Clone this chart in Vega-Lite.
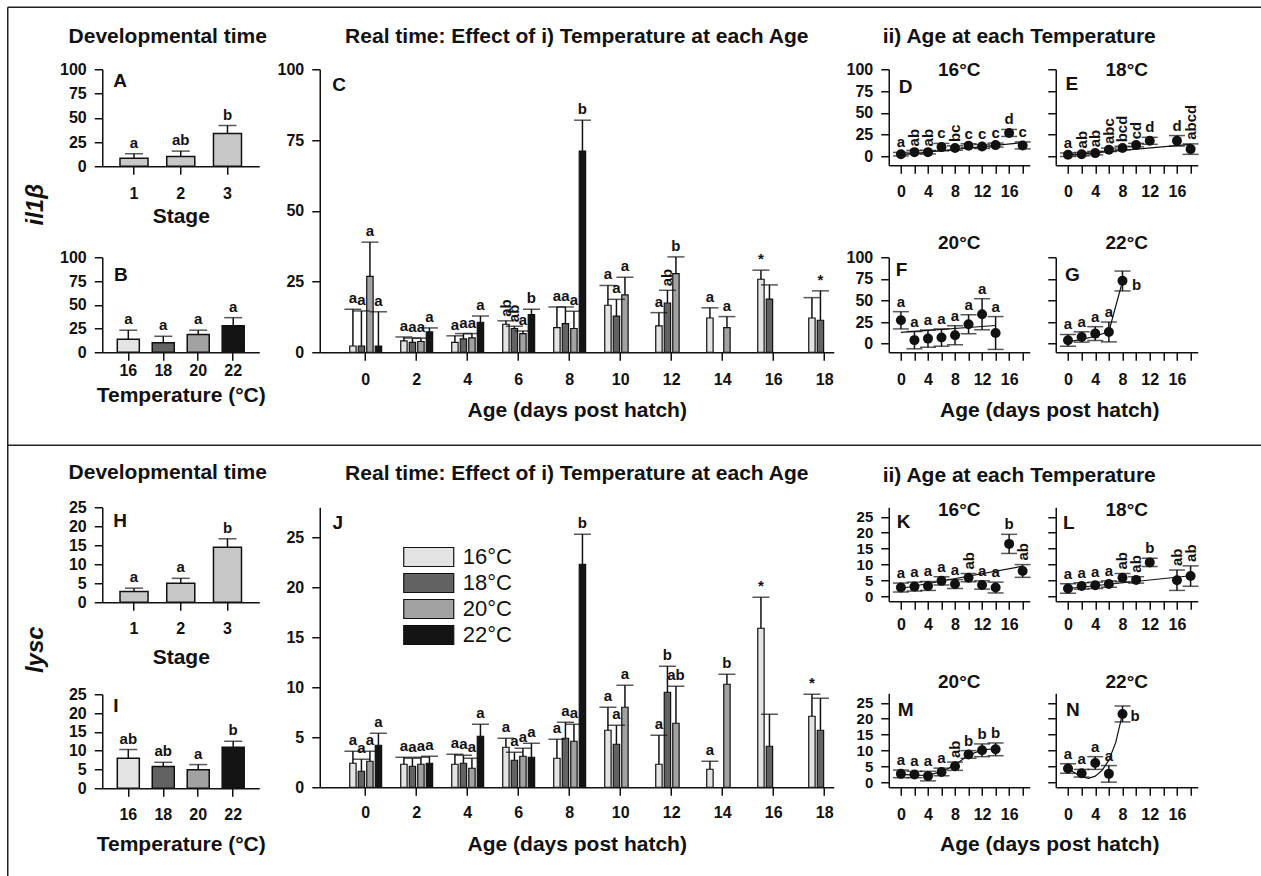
{
"$schema":"https://vega.github.io/schema/vega-lite/v6.json",
"padding":{"left":6.25,"top":6.25,"right":0,"bottom":0},
"background":"white",
"config":{
 "font":"Liberation Sans",
 "view":{"stroke":null},
 "axis":{"domainColor":"#111","domainWidth":1.5,"tickColor":"#111","tickWidth":1.5,"tickSize":8,"grid":false,"labelFont":"Liberation Sans","labelFontSize":16,"labelFontWeight":"bold","labelColor":"#111","labelPadding":8,"labelOverlap":false,"labelFlush":false,"titleFont":"Liberation Sans","titleFontSize":21,"titleFontWeight":"bold","titleColor":"#111"},
 "title":{"font":"Liberation Sans","fontSize":21,"fontWeight":"bold","color":"#111"},
 "text":{"font":"Liberation Sans","fontWeight":"bold","fontSize":15,"color":"#111"},
 "rule":{"color":"#111","strokeWidth":1.5},
 "tick":{"color":"#111","thickness":1.5},
 "point":{"filled":true,"color":"#111","opacity":1,"size":100},
 "line":{"color":"#111","strokeWidth":1.2},
 "bar":{"stroke":"#111","strokeWidth":1.2}
},
"datasets":{
 "stA":[{"stage":1,"mean":8.3,"hi":12.9,"lab":"a"},{"stage":2,"mean":10.1,"hi":15.6,"lab":"ab"},{"stage":3,"mean":33.8,"hi":42,"lab":"b"}],
 "tpB":[{"temp":16,"mean":13.6,"hi":23.2,"lab":"a"},{"temp":18,"mean":10,"hi":16.8,"lab":"a"},{"temp":20,"mean":18.6,"hi":23.2,"lab":"a"},{"temp":22,"mean":27.9,"hi":36.4,"lab":"a"}],
 "stH":[{"stage":1,"mean":2.8,"hi":3.7,"lab":"a"},{"stage":2,"mean":5.0,"hi":6.3,"lab":"a"},{"stage":3,"mean":14.5,"hi":16.7,"lab":"b"}],
 "tpI":[{"temp":16,"mean":8.0,"hi":10.3,"lab":"ab"},{"temp":18,"mean":5.8,"hi":6.9,"lab":"ab"},{"temp":20,"mean":4.9,"hi":6.3,"lab":"a"},{"temp":22,"mean":10.9,"hi":12.5,"lab":"b"}],
 "realIl":[
  {"age":0,"temp":16,"mean":2.2,"hi":15.2,"lab":"a"},{"age":0,"temp":18,"mean":2.2,"hi":14.6,"lab":"a"},{"age":0,"temp":20,"mean":26.8,"hi":38.9,"lab":"a"},{"age":0,"temp":22,"mean":2.2,"hi":14.3,"lab":"a"},
  {"age":2,"temp":16,"mean":4.0,"hi":5.4,"lab":"a"},{"age":2,"temp":18,"mean":3.5,"hi":5.0,"lab":"a"},{"age":2,"temp":20,"mean":3.8,"hi":5.0,"lab":"a"},{"age":2,"temp":22,"mean":7.2,"hi":8.6,"lab":"a"},
  {"age":4,"temp":16,"mean":3.5,"hi":5.8,"lab":"a"},{"age":4,"temp":18,"mean":4.7,"hi":6.6,"lab":"a"},{"age":4,"temp":20,"mean":5.1,"hi":6.6,"lab":"a"},{"age":4,"temp":22,"mean":10.6,"hi":12.8,"lab":"a"},
  {"age":6,"temp":16,"mean":9.9,"hi":11.1,"vlab":"ab"},{"age":6,"temp":18,"mean":8.4,"hi":9.2,"vlab":"ab"},{"age":6,"temp":20,"mean":6.6,"hi":7.5,"lab":"a"},{"age":6,"temp":22,"mean":13.3,"hi":15.2,"lab":"b"},
  {"age":8,"temp":16,"mean":8.7,"hi":16.0,"lab":"a"},{"age":8,"temp":18,"mean":10.1,"hi":16.0,"lab":"a"},{"age":8,"temp":20,"mean":8.4,"hi":14.5,"lab":"a"},{"age":8,"temp":22,"mean":71.1,"hi":82.0,"lab":"b"},
  {"age":10,"temp":16,"mean":16.6,"hi":23.6,"lab":"a"},{"age":10,"temp":18,"mean":12.8,"hi":18.7,"lab":"a"},{"age":10,"temp":20,"mean":20.3,"hi":26.5,"lab":"a"},
  {"age":12,"temp":16,"mean":9.3,"hi":14.0,"lab":"a"},{"age":12,"temp":18,"mean":17.4,"hi":21.9,"vlab":"ab"},{"age":12,"temp":20,"mean":27.8,"hi":33.7,"lab":"b"},
  {"age":14,"temp":16,"mean":12.1,"hi":15.7,"lab":"a"},{"age":14,"temp":20,"mean":8.7,"hi":12.6,"lab":"a"},
  {"age":16,"temp":16,"mean":25.8,"hi":29.0,"lab":"*"},{"age":16,"temp":18,"mean":18.8,"hi":23.8},
  {"age":18,"temp":16,"mean":12.1,"hi":19.3},{"age":18,"temp":18,"mean":11.3,"hi":21.7,"lab":"*"}
 ],
 "realLy":[
  {"age":0,"temp":16,"mean":2.4,"hi":3.6,"lab":"a"},{"age":0,"temp":18,"mean":1.6,"hi":2.8,"lab":"a"},{"age":0,"temp":20,"mean":2.6,"hi":3.6,"lab":"a"},{"age":0,"temp":22,"mean":4.2,"hi":5.4,"lab":"a"},
  {"age":2,"temp":16,"mean":2.3,"hi":3.0,"lab":"a"},{"age":2,"temp":18,"mean":2.1,"hi":2.9,"lab":"a"},{"age":2,"temp":20,"mean":2.3,"hi":3.0,"lab":"a"},{"age":2,"temp":22,"mean":2.4,"hi":3.1,"lab":"a"},
  {"age":4,"temp":16,"mean":2.3,"hi":3.3,"lab":"a"},{"age":4,"temp":18,"mean":2.4,"hi":3.2,"lab":"a"},{"age":4,"temp":20,"mean":1.9,"hi":2.9,"lab":"a"},{"age":4,"temp":22,"mean":5.1,"hi":6.3,"lab":"a"},
  {"age":6,"temp":16,"mean":4.0,"hi":4.9,"lab":"a"},{"age":6,"temp":18,"mean":2.7,"hi":3.5,"lab":"a"},{"age":6,"temp":20,"mean":3.1,"hi":3.9,"lab":"a"},{"age":6,"temp":22,"mean":3.0,"hi":4.4,"lab":"a"},
  {"age":8,"temp":16,"mean":2.9,"hi":4.8,"lab":"a"},{"age":8,"temp":18,"mean":4.9,"hi":6.5,"lab":"a"},{"age":8,"temp":20,"mean":4.6,"hi":6.3,"lab":"a"},{"age":8,"temp":22,"mean":22.3,"hi":25.3,"lab":"b"},
  {"age":10,"temp":16,"mean":5.7,"hi":8.0,"lab":"a"},{"age":10,"temp":18,"mean":4.3,"hi":6.2,"lab":"a"},{"age":10,"temp":20,"mean":8.0,"hi":10.2,"lab":"a"},
  {"age":12,"temp":16,"mean":2.3,"hi":5.2,"lab":"a"},{"age":12,"temp":18,"mean":9.5,"hi":12.1,"lab":"b"},{"age":12,"temp":20,"mean":6.4,"hi":10.1,"lab":"ab"},
  {"age":14,"temp":16,"mean":1.8,"hi":2.6,"lab":"a"},{"age":14,"temp":20,"mean":10.3,"hi":11.3,"lab":"b"},
  {"age":16,"temp":16,"mean":15.9,"hi":19.0,"lab":"*"},{"age":16,"temp":18,"mean":4.1,"hi":7.3},
  {"age":18,"temp":16,"mean":7.1,"hi":9.3,"lab":"*"},{"age":18,"temp":18,"mean":5.7,"hi":8.9}
 ],
 "ageIl":[
  {"temp":16,"age":0,"mean":2.7,"lo":0.7,"hi":4.7,"lab":"a"},{"temp":16,"age":2,"mean":5,"lo":3,"hi":7,"vlab":"ab"},{"temp":16,"age":4,"mean":5,"lo":3,"hi":7,"vlab":"ab"},{"temp":16,"age":6,"mean":10.8,"lo":6.5,"hi":15,"lab":"c"},{"temp":16,"age":8,"mean":9.7,"lo":7.2,"hi":12.2,"vlab":"bc"},{"temp":16,"age":10,"mean":12.3,"lo":10,"hi":14.6,"lab":"c"},{"temp":16,"age":12,"mean":11.5,"lo":9.2,"hi":13.8,"lab":"c"},{"temp":16,"age":14,"mean":13.1,"lo":10.8,"hi":15.4,"lab":"c"},{"temp":16,"age":16,"mean":27,"lo":23,"hi":31,"lab":"d"},{"temp":16,"age":18,"mean":12.7,"lo":8.7,"hi":16.7,"lab":"c"},
  {"temp":18,"age":0,"mean":2,"lo":0,"hi":4,"lab":"a"},{"temp":18,"age":2,"mean":2.7,"lo":0.7,"hi":4.7,"vlab":"ab"},{"temp":18,"age":4,"mean":3.9,"lo":1.9,"hi":5.9,"vlab":"ab"},{"temp":18,"age":6,"mean":7.7,"lo":5.7,"hi":9.7,"vlab":"abc"},{"temp":18,"age":8,"mean":9.7,"lo":7.7,"hi":11.7,"vlab":"bcd"},{"temp":18,"age":10,"mean":13.1,"lo":11.1,"hi":15.1,"vlab":"cd"},{"temp":18,"age":12,"mean":18,"lo":14,"hi":22,"lab":"d"},{"temp":18,"age":16,"mean":18,"lo":12,"hi":24,"lab":"d"},{"temp":18,"age":18,"mean":8.5,"lo":2.5,"hi":14.5,"vlab":"abcd"},
  {"temp":20,"age":0,"mean":27,"lo":17,"hi":37,"lab":"a"},{"temp":20,"age":2,"mean":4,"lo":-6,"hi":14,"lab":"a"},{"temp":20,"age":4,"mean":5.8,"lo":-4.2,"hi":15.8,"lab":"a"},{"temp":20,"age":6,"mean":7,"lo":-3,"hi":17,"lab":"a"},{"temp":20,"age":8,"mean":9.7,"lo":-1.3,"hi":20.7,"lab":"a"},{"temp":20,"age":10,"mean":22.4,"lo":11.4,"hi":33.4,"lab":"a"},{"temp":20,"age":12,"mean":34,"lo":16,"hi":52,"lab":"a"},{"temp":20,"age":14,"mean":12.3,"lo":-6.7,"hi":31.3,"lab":"a"},
  {"temp":22,"age":0,"mean":3.8,"lo":-3,"hi":10.6,"lab":"a"},{"temp":22,"age":2,"mean":7.7,"lo":1.7,"hi":13.7,"lab":"a"},{"temp":22,"age":4,"mean":11.6,"lo":3.6,"hi":19.6,"lab":"a"},{"temp":22,"age":6,"mean":13.5,"lo":2,"hi":25,"lab":"a"},{"temp":22,"age":8,"mean":72.8,"lo":61,"hi":84,"rlab":"b"}
 ],
 "fitIl":[
  {"temp":16,"age":0,"fit":2},{"temp":16,"age":18,"fit":16},
  {"temp":18,"age":0,"fit":1.5},{"temp":18,"age":18,"fit":14},
  {"temp":20,"age":0,"fit":13},{"temp":20,"age":14,"fit":21},
  {"temp":22,"age":0,"fit":2},{"temp":22,"age":2,"fit":5},{"temp":22,"age":4,"fit":8.5},{"temp":22,"age":6,"fit":14},{"temp":22,"age":8,"fit":72}
 ],
 "ageLy":[
  {"temp":16,"age":0,"mean":2.8,"lo":1.4,"hi":4.2,"lab":"a"},{"temp":16,"age":2,"mean":3.1,"lo":1.7,"hi":4.5,"lab":"a"},{"temp":16,"age":4,"mean":3.3,"lo":1.9,"hi":4.7,"lab":"a"},{"temp":16,"age":6,"mean":4.9,"lo":3.6,"hi":6.2,"lab":"a"},{"temp":16,"age":8,"mean":3.9,"lo":2.5,"hi":5.3,"lab":"a"},{"temp":16,"age":10,"mean":5.9,"lo":4.6,"hi":7.2,"vlab":"ab"},{"temp":16,"age":12,"mean":3.6,"lo":2.3,"hi":4.9,"lab":"a"},{"temp":16,"age":14,"mean":2.8,"lo":1.1,"hi":4.5,"lab":"a"},{"temp":16,"age":16,"mean":16.5,"lo":13.5,"hi":19.5,"lab":"b"},{"temp":16,"age":18,"mean":8.0,"lo":6,"hi":10,"vlab":"ab"},
  {"temp":18,"age":0,"mean":2.5,"lo":1,"hi":4,"lab":"a"},{"temp":18,"age":2,"mean":3.3,"lo":2.3,"hi":4.3,"lab":"a"},{"temp":18,"age":4,"mean":3.5,"lo":2.5,"hi":4.5,"lab":"a"},{"temp":18,"age":6,"mean":3.9,"lo":2.9,"hi":4.9,"lab":"a"},{"temp":18,"age":8,"mean":5.9,"lo":4.6,"hi":7.2,"vlab":"ab"},{"temp":18,"age":10,"mean":5.2,"lo":4.2,"hi":6.2,"vlab":"ab"},{"temp":18,"age":12,"mean":10.7,"lo":9.4,"hi":12,"lab":"b"},{"temp":18,"age":16,"mean":5.1,"lo":1.9,"hi":8.3,"vlab":"ab"},{"temp":18,"age":18,"mean":6.4,"lo":3.2,"hi":9.6,"vlab":"ab"},
  {"temp":20,"age":0,"mean":2.7,"lo":1.5,"hi":3.9,"lab":"a"},{"temp":20,"age":2,"mean":2.5,"lo":1.5,"hi":3.5,"lab":"a"},{"temp":20,"age":4,"mean":2.0,"lo":0.5,"hi":3.5,"lab":"a"},{"temp":20,"age":6,"mean":3.3,"lo":2.1,"hi":4.5,"lab":"a"},{"temp":20,"age":8,"mean":5.1,"lo":3.8,"hi":6.4,"vlab":"ab"},{"temp":20,"age":10,"mean":8.8,"lo":7.6,"hi":10,"lab":"b"},{"temp":20,"age":12,"mean":10.1,"lo":8.1,"hi":12.1,"lab":"b"},{"temp":20,"age":14,"mean":10.4,"lo":8.4,"hi":12.4,"lab":"b"},
  {"temp":22,"age":0,"mean":4.4,"lo":2.9,"hi":5.9,"lab":"a"},{"temp":22,"age":2,"mean":2.9,"lo":1.7,"hi":4.1,"lab":"a"},{"temp":22,"age":4,"mean":6.1,"lo":4.1,"hi":8.1,"lab":"a"},{"temp":22,"age":6,"mean":2.7,"lo":0.1,"hi":5.3,"lab":"a"},{"temp":22,"age":8,"mean":21.5,"lo":19,"hi":24,"rlab":"b"}
 ],
 "fitLy":[
  {"temp":16,"age":0,"fit":2.5},{"temp":16,"age":18,"fit":9.5},
  {"temp":18,"age":0,"fit":2.5},{"temp":18,"age":18,"fit":6.5},
  {"temp":20,"age":0,"fit":2.6},{"temp":20,"age":2,"fit":2.2},{"temp":20,"age":4,"fit":2.3},{"temp":20,"age":6,"fit":3.3},{"temp":20,"age":8,"fit":5.5},{"temp":20,"age":10,"fit":8.6},{"temp":20,"age":12,"fit":10.2},{"temp":20,"age":14,"fit":10.6},
  {"temp":22,"age":0,"fit":4.5},{"temp":22,"age":1,"fit":3},{"temp":22,"age":2,"fit":1.8},{"temp":22,"age":3,"fit":1.3},{"temp":22,"age":4,"fit":2},{"temp":22,"age":5,"fit":3.8},{"temp":22,"age":6,"fit":7},{"temp":22,"age":7,"fit":12.5},{"temp":22,"age":8,"fit":21.5}
 ]
},
"resolve":{"scale":{"fill":"independent"},"legend":{"fill":"independent"}},
"spacing":61,
"bounds":"flush",
"vconcat":[
 {"width":1160,"height":1,"data":{"values":[{}]},
  "layer":[
   {"mark":{"type":"rule","color":"#222","strokeWidth":1.5},"encoding":{"x":{"datum":-94.5,"type":"quantitative","scale":{"domain":[0,1160],"nice":false,"zero":false},"axis":null},"x2":{"datum":1160},"y":{"datum":0,"type":"quantitative","scale":{"domain":[0,1],"reverse":true,"nice":false,"zero":false},"axis":null}}},
   {"mark":{"type":"rule","color":"#222","strokeWidth":1.5},"encoding":{"x":{"datum":-94.5,"type":"quantitative"},"y":{"datum":0,"type":"quantitative"},"y2":{"datum":880}}},
   {"mark":{"type":"rule","color":"#222","strokeWidth":1.5},"encoding":{"x":{"datum":-94.5,"type":"quantitative"},"x2":{"datum":1160},"y":{"datum":438,"type":"quantitative"}}}
  ]},
 {"vconcat":[
   {"hconcat":[
     {"title":{"text":"Developmental time","frame":"group","anchor":"middle","baseline":"bottom","offset":-6.4,"dx":65.5},
      "vconcat":[
       {"width":157,"height":97,"data":{"name":"stA"},
        "layer":[
         {"mark":{"type":"bar","fill":"#c8c8c8","strokeWidth":1.5},"encoding":{
           "x":{"field":"stage","type":"ordinal","scale":{"domain":[1,2,3],"paddingInner":0.4,"paddingOuter":0.38},"axis":{"title":"Stage","labelAngle":0,"labelPadding":11,"titlePadding":4}},
           "y":{"field":"mean","type":"quantitative","stack":null,"scale":{"domain":[0,100],"nice":false},"axis":{"values":[0,25,50,75,100],"tickCount":20,"title":"il1β","titleFontStyle":"italic","titleFontSize":24,"titleX":-66.5,"titleY":135,"titleAngle":270,"titleAlign":"center","titleBaseline":"middle"}}}},
         {"mark":"rule","encoding":{"x":{"field":"stage","type":"ordinal"},"y":{"field":"mean","type":"quantitative"},"y2":{"field":"hi"}}},
         {"mark":{"type":"tick","orient":"horizontal","size":18},"encoding":{"x":{"field":"stage","type":"ordinal"},"y":{"field":"hi","type":"quantitative"}}},
         {"mark":{"type":"text","baseline":"alphabetic","yOffset":-6},"encoding":{"x":{"field":"stage","type":"ordinal"},"y":{"field":"hi","type":"quantitative"},"text":{"field":"lab"}}},
         {"data":{"values":[{"p":"A"}]},"mark":{"type":"text","fontSize":19,"baseline":"middle","dx":-14},"encoding":{"x":{"datum":1,"type":"ordinal"},"y":{"datum":88,"type":"quantitative"},"text":{"field":"p"}}}
        ]},
       {"width":157,"height":95,"data":{"name":"tpB"},
        "layer":[
         {"mark":{"type":"bar","strokeWidth":1.5},"encoding":{
           "x":{"field":"temp","type":"ordinal","scale":{"domain":[16,18,20,22],"paddingInner":0.37,"paddingOuter":0.43},"axis":{"title":"Temperature (°C)","labelAngle":0,"labelPadding":2,"titlePadding":6.5}},
           "y":{"field":"mean","type":"quantitative","stack":null,"scale":{"domain":[0,100],"nice":false},"axis":{"values":[0,25,50,75,100],"tickCount":20,"title":null}},
           "fill":{"field":"temp","type":"ordinal","scale":{"domain":[16,18,20,22],"range":["#e4e4e4","#626262","#a2a2a2","#141414"]},"legend":null}}},
         {"mark":"rule","encoding":{"x":{"field":"temp","type":"ordinal"},"y":{"field":"mean","type":"quantitative"},"y2":{"field":"hi"}}},
         {"mark":{"type":"tick","orient":"horizontal","size":18},"encoding":{"x":{"field":"temp","type":"ordinal"},"y":{"field":"hi","type":"quantitative"}}},
         {"mark":{"type":"text","baseline":"alphabetic","yOffset":-6},"encoding":{"x":{"field":"temp","type":"ordinal"},"y":{"field":"hi","type":"quantitative"},"text":{"field":"lab"}}},
         {"data":{"values":[{"p":"B"}]},"mark":{"type":"text","fontSize":19,"baseline":"middle","dx":-7.5},"encoding":{"x":{"datum":16,"type":"ordinal"},"y":{"datum":81.6,"type":"quantitative"},"text":{"field":"p"}}}
        ]}
      ],"spacing":91,"bounds":"flush"},
     {"hconcat":[
       {"width":514,"height":283,"data":{"name":"realIl"},
        "title":{"text":"Real time: Effect of i) Temperature at each Age","frame":"group","anchor":"middle","baseline":"bottom","offset":-6.4},
        "layer":[
         {"mark":{"type":"bar"},"encoding":{
           "x":{"field":"age","type":"ordinal","scale":{"domain":[0,2,4,6,8,10,12,14,16,18],"paddingInner":0.647,"paddingOuter":0.3625,"align":1},"axis":{"title":"Age (days post hatch)","labelAngle":0,"labelPadding":11,"titlePadding":12.5}},
           "xOffset":{"field":"temp","type":"ordinal","scale":{"domain":[16,18,20,22],"range":[-7,24.9],"paddingInner":0.25,"paddingOuter":0}},
           "y":{"field":"mean","type":"quantitative","stack":null,"scale":{"domain":[0,100],"nice":false},"axis":{"values":[0,25,50,75,100],"tickCount":20,"title":null}},
           "fill":{"field":"temp","type":"ordinal","scale":{"domain":[16,18,20,22],"range":["#e4e4e4","#626262","#a2a2a2","#141414"]},"legend":null}}},
         {"mark":"rule","encoding":{"x":{"field":"age","type":"ordinal"},"xOffset":{"field":"temp","type":"ordinal"},"y":{"field":"mean","type":"quantitative"},"y2":{"field":"hi"}}},
         {"mark":{"type":"tick","orient":"horizontal","size":17},"encoding":{"x":{"field":"age","type":"ordinal"},"xOffset":{"field":"temp","type":"ordinal"},"y":{"field":"hi","type":"quantitative"}}},
         {"transform":[{"filter":"isValid(datum.lab)"}],"mark":{"type":"text","baseline":"alphabetic","yOffset":-6},"encoding":{"x":{"field":"age","type":"ordinal"},"xOffset":{"field":"temp","type":"ordinal"},"y":{"field":"hi","type":"quantitative"},"text":{"field":"lab"}}},
         {"transform":[{"filter":"isValid(datum.vlab)"}],"mark":{"type":"text","angle":270,"align":"left","baseline":"middle","yOffset":-4},"encoding":{"x":{"field":"age","type":"ordinal"},"xOffset":{"field":"temp","type":"ordinal"},"y":{"field":"hi","type":"quantitative"},"text":{"field":"vlab"}}},
         {"data":{"values":[{"p":"C"}]},"mark":{"type":"text","fontSize":19,"baseline":"middle","dx":-26.5},"encoding":{"x":{"datum":0,"type":"ordinal"},"y":{"datum":94.3,"type":"quantitative"},"text":{"field":"p"}}}
        ]},
       {"title":{"text":"ii) Age at each Temperature","frame":"group","anchor":"middle","baseline":"bottom","offset":-6.4,"dx":130.5},
        "vconcat":[
         {"hconcat":[
           {"width":141,"height":96,"layer":[
             {"data":{"name":"fitIl"},"transform":[{"filter":"datum.temp == 16"}],"mark":"line","encoding":{
               "x":{"field":"age","type":"quantitative","scale":{"domain":[-1.8,19.05],"nice":false,"zero":false},"axis":{"values":[0,2,4,6,8,10,12,14,16,18],"tickCount":20,"labelExpr":"datum.value % 4 === 0 ? datum.label : ''","title":null,"labelPadding":10}},
               "y":{"field":"fit","type":"quantitative","scale":{"domain":[-10,100],"nice":false,"zero":false},"axis":{"values":[0,25,50,75,100],"tickCount":20,"title":null}}}},
             {"data":{"name":"ageIl"},"transform":[{"filter":"datum.temp == 16"}],"layer":[
               {"mark":"rule","encoding":{"x":{"field":"age","type":"quantitative"},"y":{"field":"lo","type":"quantitative"},"y2":{"field":"hi"}}},
               {"mark":{"type":"tick","orient":"horizontal","size":16},"encoding":{"x":{"field":"age","type":"quantitative"},"y":{"field":"lo","type":"quantitative"}}},
               {"mark":{"type":"tick","orient":"horizontal","size":16},"encoding":{"x":{"field":"age","type":"quantitative"},"y":{"field":"hi","type":"quantitative"}}},
               {"mark":"point","encoding":{"x":{"field":"age","type":"quantitative"},"y":{"field":"mean","type":"quantitative"}}},
               {"transform":[{"filter":"isValid(datum.lab)"}],"mark":{"type":"text","baseline":"alphabetic","yOffset":-5},"encoding":{"x":{"field":"age","type":"quantitative"},"y":{"field":"hi","type":"quantitative"},"text":{"field":"lab"}}},
               {"transform":[{"filter":"isValid(datum.vlab)"}],"mark":{"type":"text","angle":270,"align":"left","baseline":"middle","yOffset":-4},"encoding":{"x":{"field":"age","type":"quantitative"},"y":{"field":"hi","type":"quantitative"},"text":{"field":"vlab"}}}
             ]},
             {"data":{"values":[{"t":"16°C","p":"D"}]},"layer":[
               {"mark":{"type":"text","fontSize":19,"baseline":"middle"},"encoding":{"x":{"datum":8.625,"type":"quantitative"},"y":{"datum":98.9,"type":"quantitative"},"text":{"field":"t"}}},
               {"mark":{"type":"text","fontSize":19,"baseline":"middle"},"encoding":{"x":{"datum":0.7,"type":"quantitative"},"y":{"datum":79.7,"type":"quantitative"},"text":{"field":"p"}}}
             ]}
           ]},
           {"width":142,"height":96,"layer":[
             {"data":{"name":"fitIl"},"transform":[{"filter":"datum.temp == 18"}],"mark":"line","encoding":{
               "x":{"field":"age","type":"quantitative","scale":{"domain":[-1.8,19.05],"nice":false,"zero":false},"axis":{"values":[0,2,4,6,8,10,12,14,16,18],"tickCount":20,"labelExpr":"datum.value % 4 === 0 ? datum.label : ''","title":null,"labelPadding":10}},
               "y":{"field":"fit","type":"quantitative","scale":{"domain":[-10,100],"nice":false,"zero":false},"axis":{"values":[0,25,50,75,100],"tickCount":20,"title":null,"labels":false}}}},
             {"data":{"name":"ageIl"},"transform":[{"filter":"datum.temp == 18"}],"layer":[
               {"mark":"rule","encoding":{"x":{"field":"age","type":"quantitative"},"y":{"field":"lo","type":"quantitative"},"y2":{"field":"hi"}}},
               {"mark":{"type":"tick","orient":"horizontal","size":16},"encoding":{"x":{"field":"age","type":"quantitative"},"y":{"field":"lo","type":"quantitative"}}},
               {"mark":{"type":"tick","orient":"horizontal","size":16},"encoding":{"x":{"field":"age","type":"quantitative"},"y":{"field":"hi","type":"quantitative"}}},
               {"mark":"point","encoding":{"x":{"field":"age","type":"quantitative"},"y":{"field":"mean","type":"quantitative"}}},
               {"transform":[{"filter":"isValid(datum.lab)"}],"mark":{"type":"text","baseline":"alphabetic","yOffset":-5},"encoding":{"x":{"field":"age","type":"quantitative"},"y":{"field":"hi","type":"quantitative"},"text":{"field":"lab"}}},
               {"transform":[{"filter":"isValid(datum.vlab)"}],"mark":{"type":"text","angle":270,"align":"left","baseline":"middle","yOffset":-4},"encoding":{"x":{"field":"age","type":"quantitative"},"y":{"field":"hi","type":"quantitative"},"text":{"field":"vlab"}}}
             ]},
             {"data":{"values":[{"t":"18°C","p":"E"}]},"layer":[
               {"mark":{"type":"text","fontSize":19,"baseline":"middle"},"encoding":{"x":{"datum":8.625,"type":"quantitative"},"y":{"datum":98.9,"type":"quantitative"},"text":{"field":"t"}}},
               {"mark":{"type":"text","fontSize":19,"baseline":"middle"},"encoding":{"x":{"datum":0.56,"type":"quantitative"},"y":{"datum":83.6,"type":"quantitative"},"text":{"field":"p"}}}
             ]}
           ]}
         ],"spacing":26,"bounds":"flush"},
         {"hconcat":[
           {"width":141,"height":95,"layer":[
             {"data":{"name":"fitIl"},"transform":[{"filter":"datum.temp == 20"}],"mark":"line","encoding":{
               "x":{"field":"age","type":"quantitative","scale":{"domain":[-1.8,19.05],"nice":false,"zero":false},"axis":{"values":[0,2,4,6,8,10,12,14,16,18],"tickCount":20,"labelExpr":"datum.value % 4 === 0 ? datum.label : ''","title":"Age (days post hatch)","titleX":160.5,"titleAlign":"center","titlePadding":12.5,"labelPadding":11}},
               "y":{"field":"fit","type":"quantitative","scale":{"domain":[-10,100],"nice":false,"zero":false},"axis":{"values":[0,25,50,75,100],"tickCount":20,"title":null}}}},
             {"data":{"name":"ageIl"},"transform":[{"filter":"datum.temp == 20"}],"layer":[
               {"mark":"rule","encoding":{"x":{"field":"age","type":"quantitative"},"y":{"field":"lo","type":"quantitative"},"y2":{"field":"hi"}}},
               {"mark":{"type":"tick","orient":"horizontal","size":16},"encoding":{"x":{"field":"age","type":"quantitative"},"y":{"field":"lo","type":"quantitative"}}},
               {"mark":{"type":"tick","orient":"horizontal","size":16},"encoding":{"x":{"field":"age","type":"quantitative"},"y":{"field":"hi","type":"quantitative"}}},
               {"mark":"point","encoding":{"x":{"field":"age","type":"quantitative"},"y":{"field":"mean","type":"quantitative"}}},
               {"transform":[{"filter":"isValid(datum.lab)"}],"mark":{"type":"text","baseline":"alphabetic","yOffset":-5},"encoding":{"x":{"field":"age","type":"quantitative"},"y":{"field":"hi","type":"quantitative"},"text":{"field":"lab"}}}
             ]},
             {"data":{"values":[{"t":"20°C","p":"F"}]},"layer":[
               {"mark":{"type":"text","fontSize":19,"baseline":"middle"},"encoding":{"x":{"datum":8.625,"type":"quantitative"},"y":{"datum":116.2,"type":"quantitative"},"text":{"field":"t"}}},
               {"mark":{"type":"text","fontSize":19,"baseline":"middle"},"encoding":{"x":{"datum":0.1,"type":"quantitative"},"y":{"datum":85,"type":"quantitative"},"text":{"field":"p"}}}
             ]}
           ]},
           {"width":142,"height":95,"layer":[
             {"data":{"name":"fitIl"},"transform":[{"filter":"datum.temp == 22"}],"mark":"line","encoding":{
               "x":{"field":"age","type":"quantitative","scale":{"domain":[-1.8,19.05],"nice":false,"zero":false},"axis":{"values":[0,2,4,6,8,10,12,14,16,18],"tickCount":20,"labelExpr":"datum.value % 4 === 0 ? datum.label : ''","title":null,"labelPadding":11}},
               "y":{"field":"fit","type":"quantitative","scale":{"domain":[-10,100],"nice":false,"zero":false},"axis":{"values":[0,25,50,75,100],"tickCount":20,"title":null,"labels":false}}}},
             {"data":{"name":"ageIl"},"transform":[{"filter":"datum.temp == 22"}],"layer":[
               {"mark":"rule","encoding":{"x":{"field":"age","type":"quantitative"},"y":{"field":"lo","type":"quantitative"},"y2":{"field":"hi"}}},
               {"mark":{"type":"tick","orient":"horizontal","size":16},"encoding":{"x":{"field":"age","type":"quantitative"},"y":{"field":"lo","type":"quantitative"}}},
               {"mark":{"type":"tick","orient":"horizontal","size":16},"encoding":{"x":{"field":"age","type":"quantitative"},"y":{"field":"hi","type":"quantitative"}}},
               {"mark":"point","encoding":{"x":{"field":"age","type":"quantitative"},"y":{"field":"mean","type":"quantitative"}}},
               {"transform":[{"filter":"isValid(datum.lab)"}],"mark":{"type":"text","baseline":"alphabetic","yOffset":-5},"encoding":{"x":{"field":"age","type":"quantitative"},"y":{"field":"hi","type":"quantitative"},"text":{"field":"lab"}}},
               {"transform":[{"filter":"isValid(datum.rlab)"}],"mark":{"type":"text","align":"left","baseline":"middle","xOffset":9.5,"yOffset":4},"encoding":{"x":{"field":"age","type":"quantitative"},"y":{"field":"mean","type":"quantitative"},"text":{"field":"rlab"}}}
             ]},
             {"data":{"values":[{"t":"22°C","p":"G"}]},"layer":[
               {"mark":{"type":"text","fontSize":19,"baseline":"middle"},"encoding":{"x":{"datum":8.625,"type":"quantitative"},"y":{"datum":116.2,"type":"quantitative"},"text":{"field":"t"}}},
               {"mark":{"type":"text","fontSize":19,"baseline":"middle"},"encoding":{"x":{"datum":0.64,"type":"quantitative"},"y":{"datum":79.2,"type":"quantitative"},"text":{"field":"p"}}}
             ]}
           ]}
         ],"spacing":26,"bounds":"flush"}
        ],"spacing":188,"bounds":"flush"}
     ],"spacing":55,"bounds":"flush"}
   ],"spacing":217.5,"bounds":"flush"},
   {"hconcat":[
     {"title":{"text":"Developmental time","frame":"group","anchor":"middle","baseline":"bottom","offset":-4.4,"dx":65.5},
      "vconcat":[
       {"width":157,"height":95,"data":{"name":"stH"},
        "layer":[
         {"mark":{"type":"bar","fill":"#c8c8c8","strokeWidth":1.5},"encoding":{
           "x":{"field":"stage","type":"ordinal","scale":{"domain":[1,2,3],"paddingInner":0.4,"paddingOuter":0.38},"axis":{"title":"Stage","labelAngle":0,"labelPadding":10,"titlePadding":10.5}},
           "y":{"field":"mean","type":"quantitative","stack":null,"scale":{"domain":[0,25],"nice":false},"axis":{"values":[0,5,10,15,20,25],"tickCount":20,"title":"lysc","titleFontStyle":"italic","titleFontSize":24,"titleX":-67,"titleY":142,"titleAngle":270,"titleAlign":"center","titleBaseline":"middle"}}}},
         {"mark":"rule","encoding":{"x":{"field":"stage","type":"ordinal"},"y":{"field":"mean","type":"quantitative"},"y2":{"field":"hi"}}},
         {"mark":{"type":"tick","orient":"horizontal","size":18},"encoding":{"x":{"field":"stage","type":"ordinal"},"y":{"field":"hi","type":"quantitative"}}},
         {"mark":{"type":"text","baseline":"alphabetic","yOffset":-6},"encoding":{"x":{"field":"stage","type":"ordinal"},"y":{"field":"hi","type":"quantitative"},"text":{"field":"lab"}}},
         {"data":{"values":[{"p":"H"}]},"mark":{"type":"text","fontSize":19,"baseline":"middle","dx":-14},"encoding":{"x":{"datum":1,"type":"ordinal"},"y":{"datum":21.4,"type":"quantitative"},"text":{"field":"p"}}}
        ]},
       {"width":157,"height":94,"data":{"name":"tpI"},
        "layer":[
         {"mark":{"type":"bar","strokeWidth":1.5},"encoding":{
           "x":{"field":"temp","type":"ordinal","scale":{"domain":[16,18,20,22],"paddingInner":0.37,"paddingOuter":0.43},"axis":{"title":"Temperature (°C)","labelAngle":0,"labelPadding":10,"titlePadding":11.5}},
           "y":{"field":"mean","type":"quantitative","stack":null,"scale":{"domain":[0,25],"nice":false},"axis":{"values":[0,5,10,15,20,25],"tickCount":20,"title":null}},
           "fill":{"field":"temp","type":"ordinal","scale":{"domain":[16,18,20,22],"range":["#e4e4e4","#626262","#a2a2a2","#141414"]},"legend":null}}},
         {"mark":"rule","encoding":{"x":{"field":"temp","type":"ordinal"},"y":{"field":"mean","type":"quantitative"},"y2":{"field":"hi"}}},
         {"mark":{"type":"tick","orient":"horizontal","size":18},"encoding":{"x":{"field":"temp","type":"ordinal"},"y":{"field":"hi","type":"quantitative"}}},
         {"mark":{"type":"text","baseline":"alphabetic","yOffset":-6},"encoding":{"x":{"field":"temp","type":"ordinal"},"y":{"field":"hi","type":"quantitative"},"text":{"field":"lab"}}},
         {"data":{"values":[{"p":"I"}]},"mark":{"type":"text","fontSize":19,"baseline":"middle","dx":-12.5},"encoding":{"x":{"datum":16,"type":"ordinal"},"y":{"datum":21.8,"type":"quantitative"},"text":{"field":"p"}}}
        ]}
      ],"spacing":92,"bounds":"flush"},
     {"hconcat":[
       {"width":514,"height":280,"data":{"name":"realLy"},
        "title":{"text":"Real time: Effect of i) Temperature at each Age","frame":"group","anchor":"middle","baseline":"bottom","offset":2},
        "layer":[
         {"mark":{"type":"bar"},"encoding":{
           "x":{"field":"age","type":"ordinal","scale":{"domain":[0,2,4,6,8,10,12,14,16,18],"paddingInner":0.647,"paddingOuter":0.3625,"align":1},"axis":{"title":"Age (days post hatch)","labelAngle":0,"labelPadding":9,"titlePadding":13}},
           "xOffset":{"field":"temp","type":"ordinal","scale":{"domain":[16,18,20,22],"range":[-7,24.9],"paddingInner":0.25,"paddingOuter":0}},
           "y":{"field":"mean","type":"quantitative","stack":null,"scale":{"domain":[0,28],"nice":false},"axis":{"values":[0,5,10,15,20,25],"tickCount":20,"title":null}},
           "fill":{"field":"temp","type":"ordinal","scale":{"domain":[16,18,20,22],"range":["#e4e4e4","#626262","#a2a2a2","#141414"]},
             "legend":{"orient":"none","legendX":83,"legendY":37,"title":null,"direction":"vertical","symbolType":"M-1,-0.38L1,-0.38L1,0.38L-1,0.38Z","symbolSize":2500,"symbolStrokeColor":"#111","symbolStrokeWidth":1.5,"symbolOpacity":1,"labelFont":"Liberation Sans","labelFontSize":22,"labelFontWeight":"normal","labelColor":"#111","labelExpr":"datum.label + '°C'","labelOffset":8,"clipHeight":25.5,"rowPadding":0,"padding":0}}}},
         {"mark":"rule","encoding":{"x":{"field":"age","type":"ordinal"},"xOffset":{"field":"temp","type":"ordinal"},"y":{"field":"mean","type":"quantitative"},"y2":{"field":"hi"}}},
         {"mark":{"type":"tick","orient":"horizontal","size":17},"encoding":{"x":{"field":"age","type":"ordinal"},"xOffset":{"field":"temp","type":"ordinal"},"y":{"field":"hi","type":"quantitative"}}},
         {"transform":[{"filter":"isValid(datum.lab)"}],"mark":{"type":"text","baseline":"alphabetic","yOffset":-6},"encoding":{"x":{"field":"age","type":"ordinal"},"xOffset":{"field":"temp","type":"ordinal"},"y":{"field":"hi","type":"quantitative"},"text":{"field":"lab"}}},
         {"data":{"values":[{"p":"J"}]},"mark":{"type":"text","fontSize":19,"baseline":"middle","dx":-28},"encoding":{"x":{"datum":0,"type":"ordinal"},"y":{"datum":26.45,"type":"quantitative"},"text":{"field":"p"}}}
        ]},
       {"title":{"text":"ii) Age at each Temperature","frame":"group","anchor":"middle","baseline":"bottom","offset":-6,"dx":130.5},
        "vconcat":[
         {"hconcat":[
           {"width":141,"height":94,"layer":[
             {"data":{"name":"fitLy"},"transform":[{"filter":"datum.temp == 16"}],"mark":"line","encoding":{
               "x":{"field":"age","type":"quantitative","scale":{"domain":[-1.8,19.05],"nice":false,"zero":false},"axis":{"values":[0,2,4,6,8,10,12,14,16,18],"tickCount":20,"labelExpr":"datum.value % 4 === 0 ? datum.label : ''","title":null,"labelPadding":7}},
               "y":{"field":"fit","type":"quantitative","scale":{"domain":[-1.5,28],"nice":false,"zero":false},"axis":{"values":[0,5,10,15,20,25],"tickCount":20,"title":null,"labelFontSize":15}}}},
             {"data":{"name":"ageLy"},"transform":[{"filter":"datum.temp == 16"}],"layer":[
               {"mark":"rule","encoding":{"x":{"field":"age","type":"quantitative"},"y":{"field":"lo","type":"quantitative"},"y2":{"field":"hi"}}},
               {"mark":{"type":"tick","orient":"horizontal","size":16},"encoding":{"x":{"field":"age","type":"quantitative"},"y":{"field":"lo","type":"quantitative"}}},
               {"mark":{"type":"tick","orient":"horizontal","size":16},"encoding":{"x":{"field":"age","type":"quantitative"},"y":{"field":"hi","type":"quantitative"}}},
               {"mark":"point","encoding":{"x":{"field":"age","type":"quantitative"},"y":{"field":"mean","type":"quantitative"}}},
               {"transform":[{"filter":"isValid(datum.lab)"}],"mark":{"type":"text","baseline":"alphabetic","yOffset":-5},"encoding":{"x":{"field":"age","type":"quantitative"},"y":{"field":"hi","type":"quantitative"},"text":{"field":"lab"}}},
               {"transform":[{"filter":"isValid(datum.vlab)"}],"mark":{"type":"text","angle":270,"align":"left","baseline":"middle","yOffset":-4},"encoding":{"x":{"field":"age","type":"quantitative"},"y":{"field":"hi","type":"quantitative"},"text":{"field":"vlab"}}}
             ]},
             {"data":{"values":[{"t":"16°C","p":"K"}]},"layer":[
               {"mark":{"type":"text","fontSize":19,"baseline":"middle"},"encoding":{"x":{"datum":8.625,"type":"quantitative"},"y":{"datum":27.2,"type":"quantitative"},"text":{"field":"t"}}},
               {"mark":{"type":"text","fontSize":19,"baseline":"middle"},"encoding":{"x":{"datum":0.4,"type":"quantitative"},"y":{"datum":23.4,"type":"quantitative"},"text":{"field":"p"}}}
             ]}
           ]},
           {"width":142,"height":94,"layer":[
             {"data":{"name":"fitLy"},"transform":[{"filter":"datum.temp == 18"}],"mark":"line","encoding":{
               "x":{"field":"age","type":"quantitative","scale":{"domain":[-1.8,19.05],"nice":false,"zero":false},"axis":{"values":[0,2,4,6,8,10,12,14,16,18],"tickCount":20,"labelExpr":"datum.value % 4 === 0 ? datum.label : ''","title":null,"labelPadding":7}},
               "y":{"field":"fit","type":"quantitative","scale":{"domain":[-1.5,28],"nice":false,"zero":false},"axis":{"values":[0,5,10,15,20,25],"tickCount":20,"title":null,"labels":false}}}},
             {"data":{"name":"ageLy"},"transform":[{"filter":"datum.temp == 18"}],"layer":[
               {"mark":"rule","encoding":{"x":{"field":"age","type":"quantitative"},"y":{"field":"lo","type":"quantitative"},"y2":{"field":"hi"}}},
               {"mark":{"type":"tick","orient":"horizontal","size":16},"encoding":{"x":{"field":"age","type":"quantitative"},"y":{"field":"lo","type":"quantitative"}}},
               {"mark":{"type":"tick","orient":"horizontal","size":16},"encoding":{"x":{"field":"age","type":"quantitative"},"y":{"field":"hi","type":"quantitative"}}},
               {"mark":"point","encoding":{"x":{"field":"age","type":"quantitative"},"y":{"field":"mean","type":"quantitative"}}},
               {"transform":[{"filter":"isValid(datum.lab)"}],"mark":{"type":"text","baseline":"alphabetic","yOffset":-5},"encoding":{"x":{"field":"age","type":"quantitative"},"y":{"field":"hi","type":"quantitative"},"text":{"field":"lab"}}},
               {"transform":[{"filter":"isValid(datum.vlab)"}],"mark":{"type":"text","angle":270,"align":"left","baseline":"middle","yOffset":-4},"encoding":{"x":{"field":"age","type":"quantitative"},"y":{"field":"hi","type":"quantitative"},"text":{"field":"vlab"}}}
             ]},
             {"data":{"values":[{"t":"18°C","p":"L"}]},"layer":[
               {"mark":{"type":"text","fontSize":19,"baseline":"middle"},"encoding":{"x":{"datum":8.625,"type":"quantitative"},"y":{"datum":27.2,"type":"quantitative"},"text":{"field":"t"}}},
               {"mark":{"type":"text","fontSize":19,"baseline":"middle"},"encoding":{"x":{"datum":0.1,"type":"quantitative"},"y":{"datum":23.1,"type":"quantitative"},"text":{"field":"p"}}}
             ]}
           ]}
         ],"spacing":26,"bounds":"flush"},
         {"hconcat":[
           {"width":141,"height":94,"layer":[
             {"data":{"name":"fitLy"},"transform":[{"filter":"datum.temp == 20"}],"mark":"line","encoding":{
               "x":{"field":"age","type":"quantitative","scale":{"domain":[-1.8,19.05],"nice":false,"zero":false},"axis":{"values":[0,2,4,6,8,10,12,14,16,18],"tickCount":20,"labelExpr":"datum.value % 4 === 0 ? datum.label : ''","title":"Age (days post hatch)","titleX":160.5,"titleAlign":"center","titlePadding":11.5,"labelPadding":11}},
               "y":{"field":"fit","type":"quantitative","scale":{"domain":[-1.5,28],"nice":false,"zero":false},"axis":{"values":[0,5,10,15,20,25],"tickCount":20,"title":null,"labelFontSize":15}}}},
             {"data":{"name":"ageLy"},"transform":[{"filter":"datum.temp == 20"}],"layer":[
               {"mark":"rule","encoding":{"x":{"field":"age","type":"quantitative"},"y":{"field":"lo","type":"quantitative"},"y2":{"field":"hi"}}},
               {"mark":{"type":"tick","orient":"horizontal","size":16},"encoding":{"x":{"field":"age","type":"quantitative"},"y":{"field":"lo","type":"quantitative"}}},
               {"mark":{"type":"tick","orient":"horizontal","size":16},"encoding":{"x":{"field":"age","type":"quantitative"},"y":{"field":"hi","type":"quantitative"}}},
               {"mark":"point","encoding":{"x":{"field":"age","type":"quantitative"},"y":{"field":"mean","type":"quantitative"}}},
               {"transform":[{"filter":"isValid(datum.lab)"}],"mark":{"type":"text","baseline":"alphabetic","yOffset":-5},"encoding":{"x":{"field":"age","type":"quantitative"},"y":{"field":"hi","type":"quantitative"},"text":{"field":"lab"}}},
               {"transform":[{"filter":"isValid(datum.vlab)"}],"mark":{"type":"text","angle":270,"align":"left","baseline":"middle","yOffset":-4},"encoding":{"x":{"field":"age","type":"quantitative"},"y":{"field":"hi","type":"quantitative"},"text":{"field":"vlab"}}}
             ]},
             {"data":{"values":[{"t":"20°C","p":"M"}]},"layer":[
               {"mark":{"type":"text","fontSize":19,"baseline":"middle"},"encoding":{"x":{"datum":8.625,"type":"quantitative"},"y":{"datum":31.5,"type":"quantitative"},"text":{"field":"t"}}},
               {"mark":{"type":"text","fontSize":19,"baseline":"middle"},"encoding":{"x":{"datum":0.7,"type":"quantitative"},"y":{"datum":22.8,"type":"quantitative"},"text":{"field":"p"}}}
             ]}
           ]},
           {"width":142,"height":94,"layer":[
             {"data":{"name":"fitLy"},"transform":[{"filter":"datum.temp == 22"}],"mark":"line","encoding":{
               "x":{"field":"age","type":"quantitative","scale":{"domain":[-1.8,19.05],"nice":false,"zero":false},"axis":{"values":[0,2,4,6,8,10,12,14,16,18],"tickCount":20,"labelExpr":"datum.value % 4 === 0 ? datum.label : ''","title":null,"labelPadding":11}},
               "y":{"field":"fit","type":"quantitative","scale":{"domain":[-1.5,28],"nice":false,"zero":false},"axis":{"values":[0,5,10,15,20,25],"tickCount":20,"title":null,"labels":false}}}},
             {"data":{"name":"ageLy"},"transform":[{"filter":"datum.temp == 22"}],"layer":[
               {"mark":"rule","encoding":{"x":{"field":"age","type":"quantitative"},"y":{"field":"lo","type":"quantitative"},"y2":{"field":"hi"}}},
               {"mark":{"type":"tick","orient":"horizontal","size":16},"encoding":{"x":{"field":"age","type":"quantitative"},"y":{"field":"lo","type":"quantitative"}}},
               {"mark":{"type":"tick","orient":"horizontal","size":16},"encoding":{"x":{"field":"age","type":"quantitative"},"y":{"field":"hi","type":"quantitative"}}},
               {"mark":"point","encoding":{"x":{"field":"age","type":"quantitative"},"y":{"field":"mean","type":"quantitative"}}},
               {"transform":[{"filter":"isValid(datum.lab)"}],"mark":{"type":"text","baseline":"alphabetic","yOffset":-5},"encoding":{"x":{"field":"age","type":"quantitative"},"y":{"field":"hi","type":"quantitative"},"text":{"field":"lab"}}},
               {"transform":[{"filter":"isValid(datum.rlab)"}],"mark":{"type":"text","align":"left","baseline":"middle","xOffset":8,"yOffset":2},"encoding":{"x":{"field":"age","type":"quantitative"},"y":{"field":"mean","type":"quantitative"},"text":{"field":"rlab"}}}
             ]},
             {"data":{"values":[{"t":"22°C","p":"N"}]},"layer":[
               {"mark":{"type":"text","fontSize":19,"baseline":"middle"},"encoding":{"x":{"datum":8.625,"type":"quantitative"},"y":{"datum":31.5,"type":"quantitative"},"text":{"field":"t"}}},
               {"mark":{"type":"text","fontSize":19,"baseline":"middle"},"encoding":{"x":{"datum":0.7,"type":"quantitative"},"y":{"datum":22.8,"type":"quantitative"},"text":{"field":"p"}}}
             ]}
           ]}
         ],"spacing":26,"bounds":"flush"}
        ],"spacing":186,"bounds":"flush"}
     ],"spacing":55,"bounds":"flush","resolve":{"scale":{"fill":"independent"},"legend":{"fill":"independent"}}}
   ],"spacing":217.5,"bounds":"flush","resolve":{"scale":{"fill":"independent"},"legend":{"fill":"independent"}}}
 ],"spacing":438,"bounds":"flush","resolve":{"scale":{"fill":"independent"},"legend":{"fill":"independent"}}}
]
}
